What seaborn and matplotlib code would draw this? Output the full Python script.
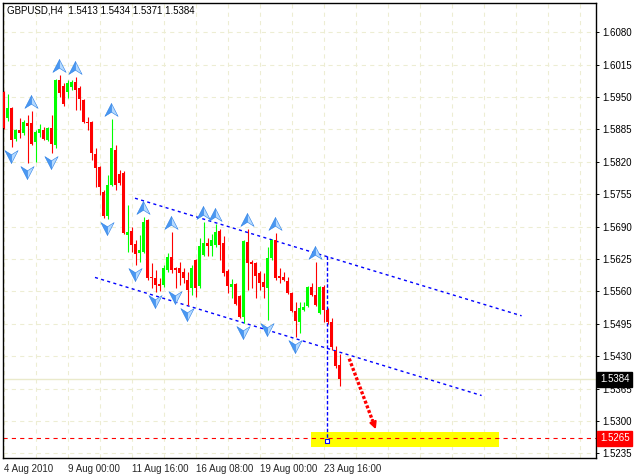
import matplotlib
matplotlib.use("Agg")
import matplotlib.pyplot as plt
from matplotlib.path import Path
import numpy as np
import pandas as pd
import seaborn as sns

# H4 candles, 4 Aug 2010 ... 24 Aug 2010
opens = [1.5960, 1.5908, 1.5928, 1.5866, 1.5884, 1.5878, 1.5898, 1.5898, 1.5860, 1.5878,
         1.5884, 1.5864, 1.5888, 1.5854, 1.5984, 1.5972, 1.5960, 1.5970, 1.5980, 1.5968,
         1.5944, 1.5900, 1.5900, 1.5836, 1.5810, 1.5760, 1.5711, 1.5774, 1.5844, 1.5796,
         1.5798, 1.5673, 1.5681, 1.5655, 1.5637, 1.5639, 1.5703, 1.5589, 1.5587, 1.5575,
         1.5573, 1.5603, 1.5629, 1.5607, 1.5607, 1.5599, 1.5583, 1.5567, 1.5623, 1.5571,
         1.5633, 1.5657, 1.5652, 1.5653, 1.5681, 1.5657, 1.5601, 1.5569, 1.5575, 1.5551,
         1.5509, 1.5659, 1.5619, 1.5617, 1.5597, 1.5579, 1.5567, 1.5627, 1.5663, 1.5590,
         1.5589, 1.5581, 1.5557, 1.5521, 1.5499, 1.5523, 1.5531, 1.5569, 1.5553, 1.5517,
         1.5569, 1.5523, 1.5499, 1.5440, 1.5413]
highs = [1.5962, 1.5956, 1.5930, 1.5886, 1.5908, 1.5904, 1.5914, 1.5922, 1.5884, 1.5896,
         1.5890, 1.5890, 1.5914, 1.5986, 1.5994, 1.5978, 1.5984, 1.5984, 1.5990, 1.5972,
         1.5946, 1.5910, 1.5902, 1.5848, 1.5812, 1.5764, 1.5794, 1.5906, 1.5854, 1.5804,
         1.5802, 1.5733, 1.5689, 1.5663, 1.5673, 1.5709, 1.5705, 1.5617, 1.5603, 1.5587,
         1.5613, 1.5637, 1.5679, 1.5609, 1.5619, 1.5607, 1.5599, 1.5613, 1.5625, 1.5667,
         1.5699, 1.5667, 1.5675, 1.5695, 1.5685, 1.5671, 1.5605, 1.5585, 1.5577, 1.5553,
         1.5663, 1.5685, 1.5623, 1.5619, 1.5601, 1.5597, 1.5649, 1.5665, 1.5677, 1.5607,
         1.5599, 1.5589, 1.5559, 1.5539, 1.5539, 1.5539, 1.5571, 1.5577, 1.5619, 1.5571,
         1.5573, 1.5527, 1.5507, 1.5450, 1.5434]
lows = [1.5886, 1.5902, 1.5850, 1.5862, 1.5868, 1.5874, 1.5818, 1.5854, 1.5820, 1.5870,
        1.5864, 1.5862, 1.5838, 1.5848, 1.5950, 1.5932, 1.5948, 1.5964, 1.5924, 1.5924,
        1.5898, 1.5884, 1.5824, 1.5770, 1.5753, 1.5707, 1.5705, 1.5772, 1.5764, 1.5774,
        1.5675, 1.5639, 1.5639, 1.5613, 1.5619, 1.5637, 1.5583, 1.5567, 1.5559, 1.5561,
        1.5569, 1.5599, 1.5597, 1.5567, 1.5573, 1.5577, 1.5533, 1.5553, 1.5549, 1.5567,
        1.5631, 1.5631, 1.5631, 1.5649, 1.5623, 1.5591, 1.5557, 1.5547, 1.5533, 1.5507,
        1.5497, 1.5563, 1.5567, 1.5547, 1.5563, 1.5547, 1.5503, 1.5623, 1.5583, 1.5577,
        1.5581, 1.5555, 1.5519, 1.5468, 1.5476, 1.5521, 1.5529, 1.5551, 1.5531, 1.5515,
        1.5499, 1.5495, 1.5442, 1.5406, 1.5371]
closes = [1.5888, 1.5928, 1.5864, 1.5884, 1.5878, 1.5900, 1.5892, 1.5856, 1.5880, 1.5886,
          1.5866, 1.5888, 1.5856, 1.5984, 1.5958, 1.5936, 1.5978, 1.5980, 1.5964, 1.5946,
          1.5900, 1.5897, 1.5838, 1.5808, 1.5770, 1.5711, 1.5774, 1.5848, 1.5774, 1.5778,
          1.5677, 1.5679, 1.5653, 1.5635, 1.5643, 1.5699, 1.5587, 1.5587, 1.5573, 1.5571,
          1.5607, 1.5629, 1.5603, 1.5603, 1.5597, 1.5587, 1.5563, 1.5607, 1.5567, 1.5651,
          1.5657, 1.5652, 1.5663, 1.5679, 1.5653, 1.5597, 1.5571, 1.5575, 1.5535, 1.5509,
          1.5661, 1.5617, 1.5614, 1.5591, 1.5577, 1.5569, 1.5627, 1.5663, 1.5587, 1.5587,
          1.5583, 1.5557, 1.5521, 1.5501, 1.5527, 1.5529, 1.5569, 1.5553, 1.5533, 1.5569,
          1.5523, 1.5499, 1.5448, 1.5410, 1.5384]

# fractal bars (index into the candle lists)
up_fractals = [7, 14, 18, 27, 35, 42, 50, 53, 61, 68, 78]
down_fractals = [2, 6, 12, 26, 33, 38, 43, 46, 60, 66, 73]

# drawn objects (bar index, price)
upper_channel_x = [32.85, 129.5]
upper_channel_y = [1.5747, 1.5511]
lower_channel_x = [22.85, 119.5]
lower_channel_y = [1.5588, 1.5351]
vline_x = [80.9, 80.9]
vline_y = [1.5631, 1.5262]
arrow_x = [86.4, 93.3]
arrow_y = [1.5425, 1.5278]
target_x = [76.85, 123.85]
target_low, target_high = 1.5248, 1.5278
target_level = 1.5265
bid = 1.5384

date_ticks = [0, 16, 32, 48, 64, 80]
date_labels = ["4 Aug 2010", "9 Aug 00:00", "11 Aug 16:00", "16 Aug 08:00",
               "19 Aug 00:00", "23 Aug 16:00"]
price_ticks = [1.5235, 1.5300, 1.5365, 1.5430, 1.5495, 1.5560, 1.5625,
               1.5690, 1.5755, 1.5820, 1.5885, 1.5950, 1.6015, 1.6080]

df = pd.DataFrame({"open": opens, "high": highs, "low": lows, "close": closes})
df["bar"] = np.arange(len(df))
df["bull"] = df["close"] >= df["open"]

sns.set_style("white")
plt.rcParams["font.family"] = ["Liberation Sans", "DejaVu Sans"]
plt.rcParams["lines.scale_dashes"] = False
fs = 7

fig = plt.figure(figsize=(6.34, 4.74), dpi=100)
ax = fig.add_axes([2.5 / 634, 16 / 474, 593.5 / 634, 455 / 474])
ax.set_xlim(-0.275, 148.1)
ax.set_ylim(1.52256, 1.61388)

grid_col = "#EDEDD3"
ax.set_xticks(date_ticks)
ax.set_xticklabels(date_labels, ha="left")
ax.set_xticks(list(range(0, 149, 8)), minor=True)
ax.set_yticks(price_ticks)
ax.set_yticklabels([f"{p:.4f}" for p in price_ticks])
ax.grid(True, which="both", axis="x", color=grid_col, linestyle=(0, (3, 3)), lw=0.8)
ax.grid(True, which="major", axis="y", color=grid_col, linestyle=(0, (3, 3)), lw=0.8)
ax.set_axisbelow(True)
ax.tick_params(axis="y", left=False, labelleft=False, right=True, labelright=True,
               length=2.5, width=0.7, pad=2, labelsize=fs, colors="black")
ax.tick_params(axis="x", which="major", length=3, width=0.7, pad=1.5, labelsize=fs)
ax.tick_params(axis="x", which="minor", length=0)
for s in ax.spines.values():
    s.set_color("black")
    s.set_linewidth(1)

# target zone and levels
ax.fill_between(target_x, target_low, target_high, color="#FFFF00", lw=0, zorder=1)
ax.axhline(bid, color="#EAEACB", lw=1, zorder=1.2)
ax.axhline(target_level, color="red", lw=0.8, linestyle=(0, (3, 3)), zorder=2.5)

# candles
colors = np.where(df["bull"], "#00FF00", "#FF0000")
ax.vlines(df["bar"], df["low"], df["high"], colors=colors, lw=0.8, zorder=3)
body_low = np.minimum(df["open"], df["close"])
body_h = np.maximum((df["close"] - df["open"]).abs(), 0.0002)
ax.bar(df["bar"], body_h, bottom=body_low, width=0.75, color=colors, lw=0, zorder=3.1)

# channel lines
blue_dots = (0, (2.2, 2.4))
sns.lineplot(x=upper_channel_x, y=upper_channel_y, ax=ax, color="#0000FF", lw=1,
             linestyle=blue_dots, zorder=2.8)
sns.lineplot(x=lower_channel_x, y=lower_channel_y, ax=ax, color="#0000FF", lw=1,
             linestyle=blue_dots, zorder=2.8)
ax.plot(vline_x, vline_y, color="#0000FF", lw=1, linestyle=(0, (2.5, 1.5)), zorder=2.8)
ax.plot(vline_x[1], vline_y[1] - 0.0002, marker="s", ms=3.5, mfc="white", mec="#0000FF",
        mew=0.8, zorder=2.9)

# forecast arrow
ax.plot([arrow_x[0], arrow_x[0] + (arrow_x[1] - arrow_x[0]) * 0.85],
        [arrow_y[0], arrow_y[0] + (arrow_y[1] - arrow_y[0]) * 0.85],
        color="#FF0000", lw=2.4, linestyle=(0, (2.2, 1.4)), zorder=4)
ax.annotate("", xy=(arrow_x[1], arrow_y[1]),
            xytext=(arrow_x[0] + (arrow_x[1] - arrow_x[0]) * 0.8,
                    arrow_y[0] + (arrow_y[1] - arrow_y[0]) * 0.8),
            arrowprops=dict(arrowstyle="-|>", color="#FF0000", lw=1.5,
                            mutation_scale=10), zorder=4)

# fractal arrows, two-tone
def half_marker(side, up):
    sgn = 1 if up else -1
    verts = [(0, sgn * 1.0), (side * 0.95, -sgn * 0.85), (0, -sgn * 0.25), (0, sgn * 1.0)]
    return Path(verts, [Path.MOVETO, Path.LINETO, Path.LINETO, Path.CLOSEPOLY])

up_df = df.loc[up_fractals]
dn_df = df.loc[down_fractals]
for up, sub, offs in [(True, up_df["high"] + 0.0019, up_df), (False, dn_df["low"] - 0.0018, dn_df)]:
    for side, col in [(-1, "#4A98F2"), (1, "#B5DAFF")]:
        sns.scatterplot(x=offs["bar"] - 0.25, y=sub, ax=ax, marker=half_marker(side, up),
                        s=100, color=col, edgecolor="#2A7FE6", linewidth=0.4, zorder=5)

# text
ax.text(4.5 / 593.5, 1 - 8 / 455, "GBPUSD,H4  1.5413 1.5434 1.5371 1.5384",
        transform=ax.transAxes, fontsize=fs, va="center", ha="left", color="black")
ytrans = ax.get_yaxis_transform()
ax.text(1.0065, bid, f"{bid:.4f}", transform=ytrans, fontsize=fs, color="white",
        va="center", ha="left", zorder=10, clip_on=False,
        bbox=dict(boxstyle="square,pad=0.25", fc="black", ec="black"))
ax.text(1.0065, target_level, f"{target_level:.4f}", transform=ytrans, fontsize=fs,
        color="white", va="center", ha="left", zorder=10, clip_on=False,
        bbox=dict(boxstyle="square,pad=0.25", fc="#FF0000", ec="#FF0000"))

ax.set_xlabel("")
ax.set_ylabel("")
fig.savefig("out.png", dpi=100)
